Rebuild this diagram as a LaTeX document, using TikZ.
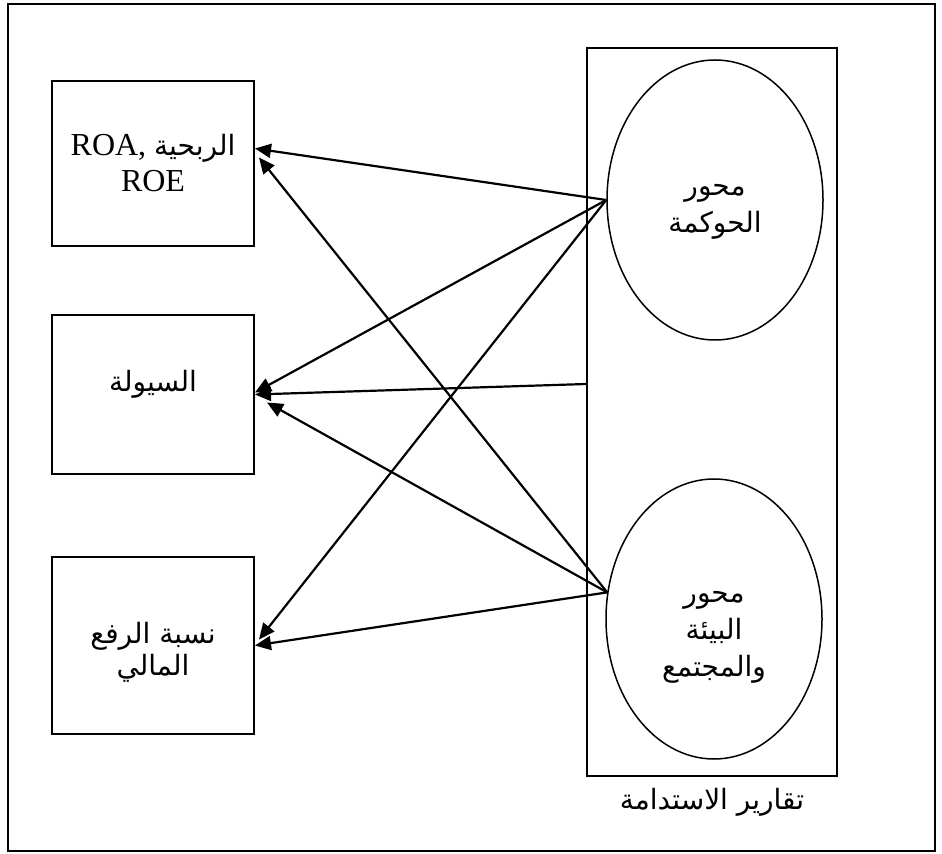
\documentclass[tikz,border=0pt]{standalone}
\usepackage{fontspec}
\setmainfont{Liberation Serif}
\newfontfamily\arabicfont[Script=Arabic]{DejaVu Sans}
\TeXXeTstate=1
\usepackage{tikz}
\usetikzlibrary{arrows.meta,positioning,shapes.geometric}
\newcommand{\shifted}[2]{\raisebox{#1}[\height][\depth]{\begin{tabular}{@{}c@{}}#2\end{tabular}}}

\begin{document}
\begin{tikzpicture}[x=0.5pt,y=-0.5pt,
  box/.style={draw,line width=1pt,minimum width=101pt,align=center,font=\fontsize{16}{18}\selectfont},
  abox/.style={box,font=\arabicfont\fontsize{14}{16}\selectfont},
  axis/.style={draw,ellipse,line width=0.75pt,minimum width=108pt,minimum height=140pt,align=center,font=\arabicfont\fontsize{14}{18.5}\selectfont},
  arr/.style={-{Triangle[length=8pt,width=7pt]},line width=1.1pt}]
\useasboundingbox (0,0) rectangle (942,854);
\draw[line width=0.8pt] (8,4) rectangle (935,851);
\node[box,minimum height=82.5pt] (roa) at (153,163.5){ROA, {\arabicfont\fontsize{14}{18}\selectfont\beginR الربحية\endR}\\ROE};
\node[abox,minimum height=79.5pt] (liq) at (153,394.5){\shifted{4.5pt}{\beginR السيولة\endR}};
\node[abox,minimum height=88.5pt] (lev) at (153,645.5){\shifted{-4pt}{\beginR نسبة الرفع\endR\\\beginR المالي\endR}};
\node[draw,line width=0.75pt,minimum width=125pt,minimum height=364pt] (rep) at (712,412){};
\node[below=2pt of rep,font=\arabicfont\fontsize{14}{18}\selectfont] (repname){\beginR تقارير الاستدامة\endR};
\node[axis] (gov) at (715,200){\shifted{-3.5pt}{\beginR محور\endR\\\beginR الحوكمة\endR}};
\node[axis] (env) at (714,619){\shifted{-6.5pt}{\beginR محور\endR\\\beginR البيئة\endR\\\beginR والمجتمع\endR}};
\draw[arr] (gov.west) -- ([yshift=7.5pt]roa.east);
\draw[arr] (gov.west) -- ([yshift=1pt]liq.east);
\draw[arr] (gov.west) -- ([xshift=2pt,yshift=3pt]lev.east);
\draw[arr] ([yshift=14pt]rep.west) -- (liq.east);
\draw[arr] (env.166) -- ([xshift=2pt,yshift=3pt]roa.east);
\draw[arr] (env.166) -- ([xshift=6pt,yshift=-4pt]liq.east);
\draw[arr] (env.166) -- (lev.east);
\end{tikzpicture}
\end{document}
